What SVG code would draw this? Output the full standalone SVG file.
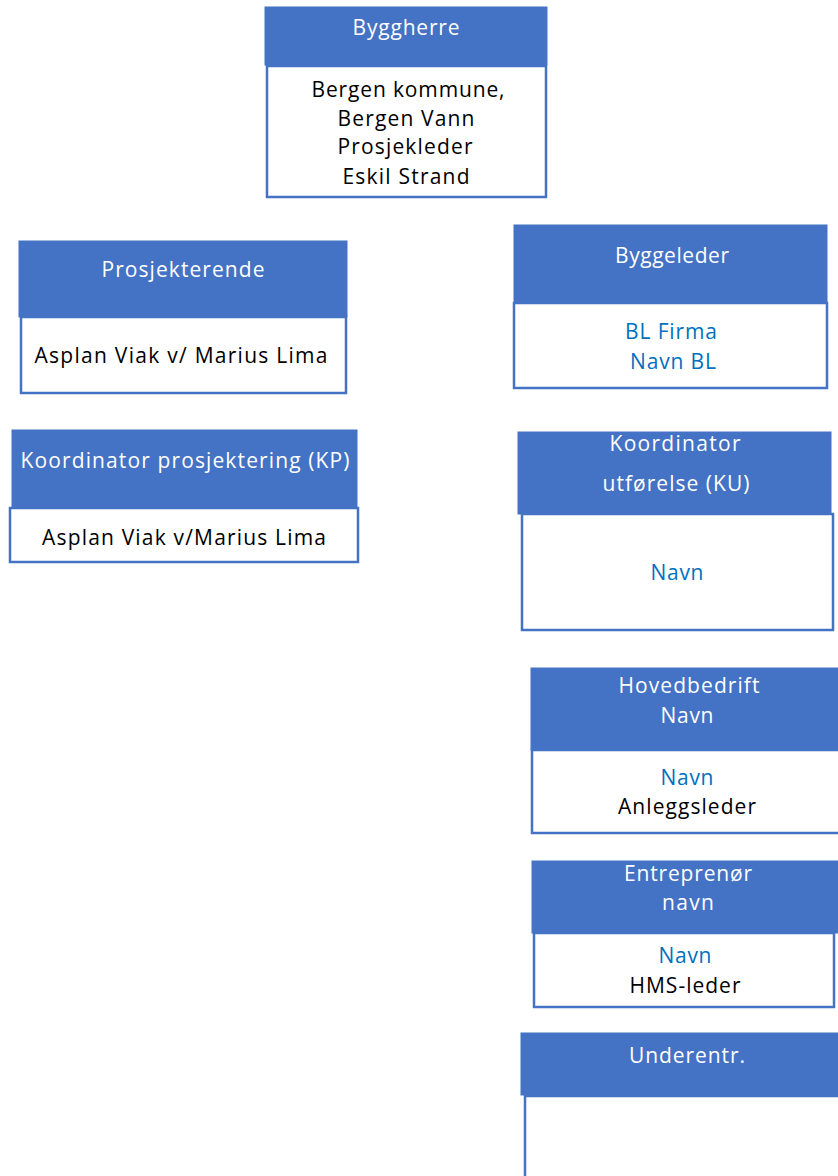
<svg xmlns="http://www.w3.org/2000/svg" width="838" height="1176" viewBox="0 0 838 1176">
<style>
.hd{fill:#4472C4;stroke:#4472C4;stroke-width:1}
.bd{fill:#FFFFFF;stroke:#4472C4;stroke-width:2.5}
text{font-family:"Open Sans","Liberation Sans",sans-serif;font-size:21px;text-anchor:middle}
.w{fill:#FFFFFF}
.k{fill:#000000}
.b{fill:#0070C0}
</style>
<rect width="838" height="1176" fill="#FFFFFF"/>
<g id="connectors"/>
<g id="byggherre">
<rect class="bd" x="267" y="66" width="279" height="131"/>
<rect class="hd" x="265" y="7" width="282" height="58"/>
<text class="w" x="406" y="35" textLength="107" lengthAdjust="spacing">Byggherre</text>
<text class="k" x="408" y="97" textLength="193" lengthAdjust="spacing">Bergen kommune,</text>
<text class="k" x="406" y="126" textLength="137" lengthAdjust="spacing">Bergen Vann</text>
<text class="k" x="405" y="154" textLength="135" lengthAdjust="spacing">Prosjekleder</text>
<text class="k" x="406" y="184" textLength="127" lengthAdjust="spacing">Eskil Strand</text>
</g>
<g id="prosjekterende">
<rect class="bd" x="21" y="317" width="325" height="76"/>
<rect class="hd" x="19" y="241" width="328" height="76"/>
<text class="w" x="183" y="277" textLength="163" lengthAdjust="spacing">Prosjekterende</text>
<text class="k" x="181" y="363" textLength="293" lengthAdjust="spacing">Asplan Viak v/ Marius Lima</text>
</g>
<g id="kp">
<rect class="bd" x="10" y="508" width="348" height="54"/>
<rect class="hd" x="12" y="430" width="345" height="78"/>
<text class="w" x="185" y="468" textLength="329" lengthAdjust="spacing">Koordinator prosjektering (KP)</text>
<text class="k" x="184" y="545" textLength="284" lengthAdjust="spacing">Asplan Viak v/Marius Lima</text>
</g>
<g id="byggeleder">
<rect class="bd" x="514" y="303" width="313" height="85"/>
<rect class="hd" x="514" y="225" width="313" height="78"/>
<text class="w" x="672" y="263" textLength="114" lengthAdjust="spacing">Byggeleder</text>
<text class="b" x="671" y="339" textLength="92" lengthAdjust="spacing">BL Firma</text>
<text class="b" x="673" y="369" textLength="86" lengthAdjust="spacing">Navn BL</text>
</g>
<g id="ku">
<rect class="bd" x="522" y="514" width="311" height="116"/>
<rect class="hd" x="518" y="432" width="313" height="82"/>
<text class="w" x="675" y="451" textLength="131" lengthAdjust="spacing">Koordinator</text>
<text class="w" x="676" y="491" textLength="147" lengthAdjust="spacing">utførelse (KU)</text>
<text class="b" x="677" y="580" textLength="53" lengthAdjust="spacing">Navn</text>
</g>
<g id="hovedbedrift">
<rect class="bd" x="532" y="750" width="320" height="83"/>
<rect class="hd" x="531" y="668" width="320" height="82"/>
<text class="w" x="689" y="693" textLength="141" lengthAdjust="spacing">Hovedbedrift</text>
<text class="w" x="687" y="723" textLength="53" lengthAdjust="spacing">Navn</text>
<text class="b" x="687" y="785" textLength="53" lengthAdjust="spacing">Navn</text>
<text class="k" x="687" y="814" textLength="138" lengthAdjust="spacing">Anleggsleder</text>
</g>
<g id="entreprenor">
<rect class="bd" x="534" y="933" width="300" height="74"/>
<rect class="hd" x="532" y="861" width="320" height="72"/>
<text class="w" x="688" y="881" textLength="128" lengthAdjust="spacing">Entreprenør</text>
<text class="w" x="688" y="910" textLength="52" lengthAdjust="spacing">navn</text>
<text class="b" x="685" y="963" textLength="53" lengthAdjust="spacing">Navn</text>
<text class="k" x="685" y="993" textLength="111" lengthAdjust="spacing">HMS-leder</text>
</g>
<g id="underentr">
<rect class="bd" x="525" y="1096" width="330" height="100"/>
<rect class="hd" x="521" y="1033" width="330" height="62"/>
<text class="w" x="687" y="1063" textLength="116" lengthAdjust="spacing">Underentr.</text>
</g>
</svg>
